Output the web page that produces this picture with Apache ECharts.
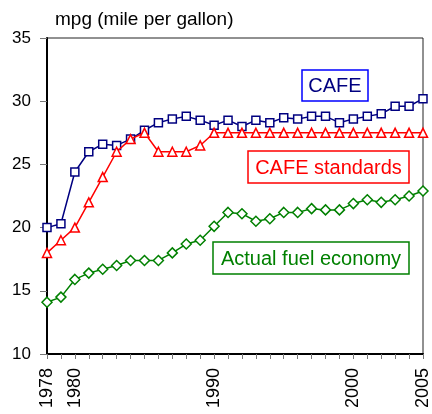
<!DOCTYPE html>
<html>
<head>
<meta charset="utf-8">
<script src="https://cdn.jsdelivr.net/npm/echarts@6/dist/echarts.min.js"></script>
<style>
html,body{margin:0;padding:0;background:#fff;}
#chart{width:432px;height:414px;}
</style>
</head>
<body>
<div id="chart"></div>
<script>
// ---- data ----
const years = [1978,1979,1980,1981,1982,1983,1984,1985,1986,1987,1988,1989,1990,1991,1992,1993,1994,1995,1996,1997,1998,1999,2000,2001,2002,2003,2004,2005];
const cafe = [20.0,20.3,24.4,26.0,26.6,26.5,27.0,27.7,28.3,28.6,28.8,28.5,28.1,28.5,28.0,28.5,28.3,28.7,28.6,28.8,28.8,28.3,28.6,28.8,29.0,29.6,29.6,30.2];
const cafeStandards = [18.0,19.0,20.0,22.0,24.0,26.0,27.0,27.5,26.0,26.0,26.0,26.5,27.5,27.5,27.5,27.5,27.5,27.5,27.5,27.5,27.5,27.5,27.5,27.5,27.5,27.5,27.5,27.5];
const actual = [14.1,14.5,15.9,16.4,16.7,17.0,17.4,17.4,17.4,18.0,18.7,19.0,20.1,21.2,21.1,20.5,20.7,21.2,21.2,21.5,21.4,21.4,21.9,22.2,22.0,22.2,22.5,22.9];
const xTickLabels = [1978,1980,1990,2000,2005];
const seriesNames = ['CAFE','CAFE standards','Actual fuel economy'];
const yAxisTitle = 'mpg (mile per gallon)';

function pairs(vals){ return years.map((y,i)=>[y, vals[i]]); }

const chart = echarts.init(document.getElementById('chart'), null, {renderer:'canvas'});
const FONT = 'Liberation Sans, Arial, sans-serif';

function box(x, y, w, h, color, textColor, label){
  return [
    {type:'rect', shape:{x:x, y:y, width:w, height:h}, style:{fill:'#fff', stroke:color, lineWidth:1.5}, z:10},
    {type:'text', x:x+w/2, y:y+h/2+1, style:{text:label, fill:textColor, font:'20px ' + FONT, textAlign:'center', textVerticalAlign:'middle'}, z:11}
  ];
}

const option = {
  animation:false,
  backgroundColor:'#fff',
  title:{
    text: yAxisTitle, left: 50, top: 5,
    textStyle:{fontFamily:FONT, fontSize:19, fontWeight:'normal', color:'#000'}
  },
  grid:{left:47, right:5, top:38, bottom:60, show:true, borderColor:'#222', borderWidth:1, backgroundColor:'transparent'},
  xAxis:{
    type:'value', min:1978, max:2005, interval:1,
    axisLine:{show:true, lineStyle:{color:'#000', width:2}},
    axisTick:{show:true, length:5, lineStyle:{color:'#777', width:1}},
    splitLine:{show:false},
    axisLabel:{
      rotate:90, margin:14, fontFamily:FONT, fontSize:18, color:'#000',
      formatter: v => xTickLabels.indexOf(v) >= 0 ? String(v) : ''
    }
  },
  yAxis:{
    type:'value', min:10, max:35, interval:5,
    axisLine:{show:true, lineStyle:{color:'#000', width:2}},
    axisTick:{show:true, length:7, lineStyle:{color:'#777', width:1}},
    splitLine:{show:false},
    axisLabel:{margin:16, fontFamily:FONT, fontSize:17, color:'#000'}
  },
  series:[
    {name:seriesNames[2], type:'line', data:pairs(actual), symbol:'diamond', symbolSize:10,
     lineStyle:{color:'#008000', width:1.5}, itemStyle:{color:'#fff', borderColor:'#008000', borderWidth:1.5}, z:3},
    {name:seriesNames[0], type:'line', data:pairs(cafe), symbol:'rect', symbolSize:8,
     lineStyle:{color:'#000080', width:1.5}, itemStyle:{color:'#fff', borderColor:'#000080', borderWidth:1.5}, z:4},
    {name:seriesNames[1], type:'line', data:pairs(cafeStandards), symbol:'triangle', symbolSize:9,
     lineStyle:{color:'#ff0000', width:1.5}, itemStyle:{color:'#fff', borderColor:'#ff0000', borderWidth:1.5}, z:5}
  ],
  graphic: [].concat(
    box(302, 70, 66, 31, '#0000ff', '#000080', seriesNames[0]),
    box(248, 151, 161, 32, '#ff0000', '#ff0000', seriesNames[1]),
    box(213, 242, 196, 32, '#008000', '#008000', seriesNames[2])
  )
};
chart.setOption(option);
</script>
</body>
</html>
